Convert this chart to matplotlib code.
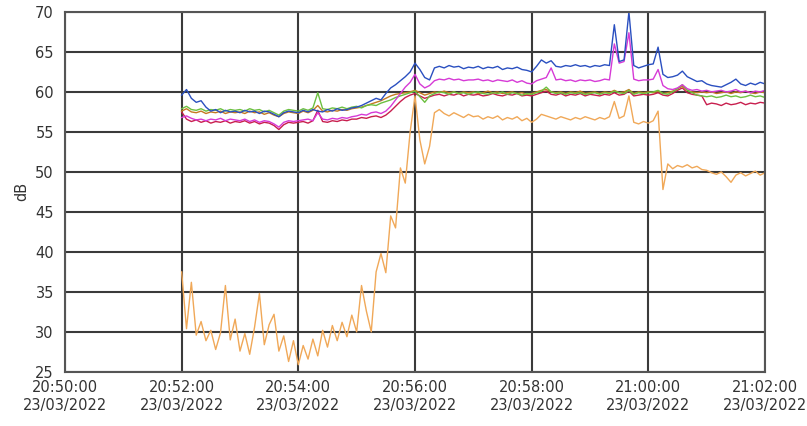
import numpy as np
import pandas as pd
import matplotlib
matplotlib.use("Agg")
import matplotlib.pyplot as plt
import matplotlib.dates as mdates

# samples every 5 s from 20:52:00 to 21:02:00
times = pd.date_range("2022-03-23 20:52:00", "2022-03-23 21:02:00", freq="5s")

blue = [59.6, 60.3, 59.2, 58.7, 58.9, 58.1, 57.6, 57.8, 57.4, 57.7, 57.5, 57.6,
        57.4, 57.7, 57.5, 57.6, 57.3, 57.6, 57.5, 57.2, 56.9, 57.4, 57.6, 57.5,
        57.4, 57.7, 57.5, 57.8, 57.6, 57.5, 57.8, 57.6, 57.9, 57.7, 57.8, 58.0,
        58.1, 58.3, 58.6, 58.9, 59.2, 59.0, 59.8, 60.5, 60.9, 61.4, 61.9, 62.5,
        63.6, 62.8, 61.8, 61.5, 63.0, 63.2, 63.0, 63.3, 63.1, 63.2, 62.9, 63.1,
        63.0, 63.2, 62.9, 63.1, 63.0, 63.2, 62.8, 63.0, 62.9, 63.1, 62.8, 62.7,
        62.5, 63.2, 64.0, 63.6, 63.9, 63.2, 63.1, 63.3, 63.2, 63.4, 63.2, 63.3,
        63.1, 63.3, 63.2, 63.4, 63.3, 68.4, 63.8, 64.0, 70.0, 63.3, 63.0, 63.2,
        63.4, 63.5, 65.6, 62.2, 61.8, 61.9, 62.1, 62.6, 61.9, 61.6, 61.3, 61.4,
        61.0, 60.8, 60.7, 60.6, 60.9, 61.2, 61.6, 61.0, 60.8, 61.1, 60.9, 61.2, 61.0]

magenta = [56.8, 57.0, 56.7, 56.5, 56.6, 56.4, 56.6, 56.5, 56.7, 56.4, 56.6, 56.5,
           56.4, 56.6, 56.3, 56.5, 56.2, 56.4, 56.3, 56.0, 55.6, 56.2, 56.4, 56.3,
           56.4, 56.5, 56.6, 56.4, 57.4, 56.6, 56.5, 56.7, 56.6, 56.8, 56.7, 56.9,
           57.0, 57.2, 57.1, 57.4, 57.5, 57.3, 57.6, 58.2, 59.0, 59.8, 60.6, 61.2,
           62.2, 61.0, 60.5, 60.8, 61.4, 61.6, 61.5, 61.7, 61.5, 61.6, 61.4, 61.5,
           61.5, 61.6, 61.4, 61.5, 61.3, 61.5, 61.4, 61.3, 61.5, 61.2, 61.4, 61.1,
           61.0, 61.4, 61.6, 61.8, 63.0, 61.5, 61.6, 61.4, 61.5, 61.3, 61.5, 61.4,
           61.5, 61.3, 61.4, 61.6, 61.5, 66.0, 63.6, 63.8, 67.4, 61.6, 61.4, 61.5,
           61.5, 61.6, 62.8, 60.8, 60.4, 60.3, 60.5, 60.9, 60.4, 60.2, 60.3, 60.1,
           60.2, 60.0, 60.1, 60.2, 60.0, 60.1, 60.3, 60.0, 60.1, 59.9, 60.1, 60.0, 60.2]

green = [57.9, 58.2, 57.8, 57.7, 57.9, 57.6, 57.8, 57.7, 57.9, 57.6, 57.8, 57.7,
         57.8, 57.6, 57.9, 57.7, 57.8, 57.5, 57.7, 57.4, 57.1, 57.6, 57.8, 57.7,
         57.6, 57.9, 57.7, 58.0, 59.9, 57.9, 57.8, 58.0, 57.9, 58.1, 57.9, 58.1,
         58.2, 58.0, 58.3, 58.4, 58.3, 58.6, 58.8, 59.0, 59.3, 59.5, 59.7, 59.9,
         60.1, 59.4, 58.7, 59.5, 59.8, 60.0, 59.9, 59.7, 60.0, 59.8, 59.9, 59.7,
         59.9, 60.0, 59.8, 59.7, 59.9, 59.8, 60.0, 59.7, 59.9, 59.8, 59.6, 59.8,
         59.7, 59.9, 60.1, 60.6, 60.0, 59.8, 59.9, 59.7, 59.9, 59.8, 59.9, 59.7,
         59.8, 59.9, 59.7, 59.9, 59.8, 60.1, 59.9, 59.8, 60.2, 59.7, 59.9, 59.8,
         59.9, 60.0, 60.2, 59.8, 59.7, 60.0, 60.4, 60.9, 60.2, 59.9, 59.6, 59.5,
         59.4, 59.5, 59.3, 59.4, 59.6, 59.4, 59.5, 59.3, 59.4, 59.6, 59.4, 59.5, 59.3]

crimson = [57.5, 56.6, 56.3, 56.5, 56.2, 56.4, 56.1, 56.3, 56.2, 56.4, 56.1, 56.3,
           56.2, 56.4, 56.1, 56.3, 56.0, 56.2, 56.1, 55.8, 55.3, 55.9, 56.2, 56.1,
           56.2, 56.3, 56.1, 56.4, 57.7, 56.3, 56.2, 56.4, 56.3, 56.5, 56.4, 56.6,
           56.6, 56.8, 56.7, 56.9, 57.0, 56.8, 57.1, 57.6, 58.2, 58.8, 59.3, 59.6,
           59.8, 59.5, 59.2, 59.4, 59.6, 59.7, 59.5, 59.7, 59.6, 59.8, 59.5, 59.7,
           59.6, 59.7, 59.5, 59.6, 59.8, 59.6, 59.5, 59.7, 59.6, 59.8, 59.5, 59.6,
           59.5, 59.7, 59.9, 60.1, 59.7, 59.6, 59.8, 59.5, 59.7, 59.6, 59.8, 59.5,
           59.7, 59.6, 59.5, 59.7, 59.6, 59.9, 59.6, 59.7, 60.1, 59.5, 59.6, 59.7,
           59.6, 59.7, 59.9, 59.6, 59.5, 59.8, 60.2, 60.5, 59.9, 59.7, 59.6, 59.5,
           58.4, 58.6, 58.5, 58.3, 58.6, 58.4, 58.5, 58.7, 58.4, 58.6, 58.5, 58.7, 58.6]

brown = [57.6, 57.9, 57.5, 57.4, 57.6, 57.3, 57.5, 57.4, 57.6, 57.3, 57.5, 57.4,
         57.5, 57.3, 57.6, 57.4, 57.5, 57.2, 57.4, 57.1, 56.9, 57.3, 57.5, 57.4,
         57.3, 57.6, 57.4, 57.7, 58.3, 57.6, 57.5, 57.7, 57.6, 57.8, 57.7, 57.9,
         58.0, 58.1, 58.3, 58.5, 58.7, 58.9, 59.2, 59.5, 59.7, 59.8, 59.9, 60.0,
         60.2, 59.9, 59.6, 59.8, 60.0, 59.9, 60.1, 59.9, 60.0, 59.8, 60.0, 59.9,
         60.0, 59.8, 59.9, 60.1, 59.9, 60.0, 59.8, 59.9, 60.0, 59.8, 59.9, 59.7,
         59.8, 60.0, 60.2, 60.3, 60.0, 59.9, 60.0, 59.8, 60.0, 59.9, 60.1, 59.8,
         59.9, 60.0, 59.8, 60.0, 59.9, 60.2, 59.9, 60.0, 60.3, 59.8, 60.0, 59.9,
         60.0, 59.9, 60.1, 59.8, 59.9, 60.1, 60.4, 60.7, 60.2, 60.0, 59.9, 60.0,
         59.9, 60.0, 59.8, 59.9, 60.0, 59.8, 60.0, 59.9, 60.1, 59.9, 59.8, 60.0, 59.9]

orange = [37.5, 30.4, 36.2, 29.6, 31.3, 28.9, 30.2, 27.8, 29.9, 35.8, 29.0, 31.6,
          27.6, 29.8, 27.2, 30.6, 34.8, 28.4, 30.9, 32.2, 27.6, 29.5, 26.3, 28.9,
          25.9, 28.3, 26.6, 29.1, 27.0, 30.2, 28.1, 30.8, 28.9, 31.2, 29.4, 32.1,
          30.0, 35.8, 32.6, 30.0, 37.5, 39.8, 37.4, 44.5, 43.0, 50.5, 48.6, 55.0,
          59.5, 54.0, 51.0, 53.2, 57.4, 57.8, 57.3, 57.0, 57.4, 57.1, 56.8, 57.2,
          56.9, 57.0, 56.6, 56.9, 56.7, 57.0, 56.5, 56.8, 56.6, 56.9, 56.4, 56.7,
          56.2, 56.6, 57.2, 57.0, 56.8, 56.6, 56.9, 56.7, 56.5, 56.8, 56.6, 56.9,
          56.7, 56.5, 56.8, 56.6, 56.9, 58.8, 56.7, 57.0, 59.5, 56.2, 56.0, 56.3,
          56.1, 56.4, 57.6, 47.8, 51.0, 50.4, 50.8, 50.6, 50.9, 50.5, 50.7, 50.3,
          50.2, 49.9, 49.7, 50.0, 49.4, 48.7, 49.6, 49.9, 49.5, 49.8, 50.1, 49.6, 49.9]

x_start = pd.Timestamp("2022-03-23 20:50:00")
x_end = pd.Timestamp("2022-03-23 21:02:00")

fig = plt.figure(figsize=(8.07, 4.26), dpi=100)
ax = fig.add_axes([0.0805, 0.127, 0.8675, 0.845])

# draw order: orange at the back, blue on top
ax.plot(times, orange, color="#f0a858", lw=1.0)
ax.plot(times, crimson, color="#c81e4e", lw=1.0)
ax.plot(times, brown, color="#c47a22", lw=1.0)
ax.plot(times, green, color="#6cc040", lw=1.0)
ax.plot(times, magenta, color="#d63ad6", lw=1.0)
ax.plot(times, blue, color="#2a4fc0", lw=1.0)

ax.set_xlim(x_start, x_end)
ax.set_ylim(25, 70)
ax.set_yticks(np.arange(25, 71, 5))
ax.xaxis.set_major_locator(mdates.MinuteLocator(byminute=range(0, 60, 2)))
ax.xaxis.set_major_formatter(mdates.DateFormatter("%H:%M:%S\n%d/%m/%Y"))

ax.grid(True, color="#3a3a3a", lw=1.5)
ax.set_axisbelow(True)
for s in ax.spines.values():
    s.set_color("#555555")
    s.set_linewidth(1.5)
ax.tick_params(length=0, labelsize=10.5, colors="#333333")
ax.tick_params(axis="y", pad=8)
ax.tick_params(axis="x", pad=6)
ax.set_ylabel("dB", fontsize=10.5, color="#333333", labelpad=4)

fig.savefig("out.png", dpi=100)
